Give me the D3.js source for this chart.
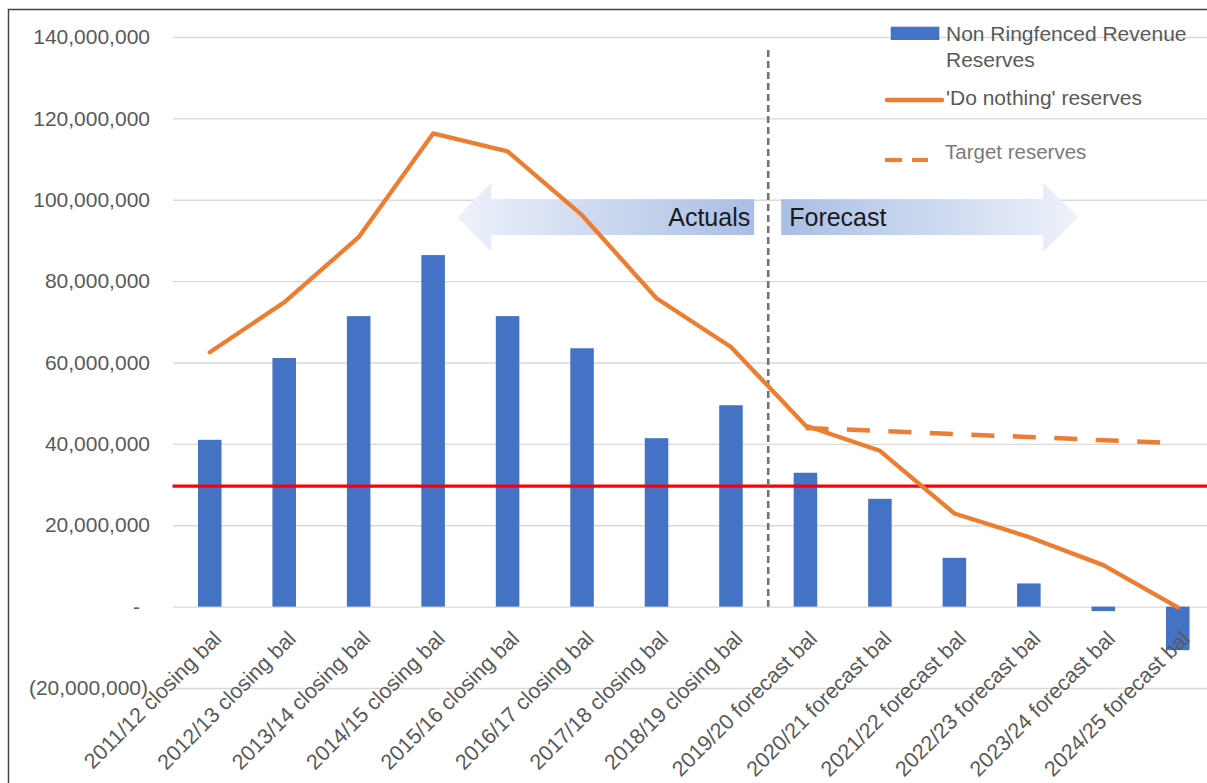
<!DOCTYPE html>
<html>
<head>
<meta charset="utf-8">
<script src="https://cdn.jsdelivr.net/npm/d3@7"></script>
<style>
  html, body { margin: 0; padding: 0; background: #fff; }
  svg { display: block; font-family: "Liberation Sans", Arial, sans-serif; }
</style>
</head>
<body>
<svg id="chart" width="1207" height="783"></svg>
<script>
// Reserve balances by year (actuals to 2018/19, forecasts after)
const categories = [
  "2011/12 closing bal", "2012/13 closing bal", "2013/14 closing bal", "2014/15 closing bal",
  "2015/16 closing bal", "2016/17 closing bal", "2017/18 closing bal", "2018/19 closing bal",
  "2019/20 forecast bal", "2020/21 forecast bal", "2021/22 forecast bal", "2022/23 forecast bal",
  "2023/24 forecast bal", "2024/25 forecast bal"
];
const nonRingfencedReserves = [
  41000000, 61100000, 71400000, 86400000, 71400000, 63500000, 41400000, 49500000,
  32900000, 26500000, 12000000, 5700000, -1100000, -10700000
];
const doNothingReserves = [
  62500000, 74800000, 90800000, 116300000, 111900000, 96200000, 75800000, 63800000,
  44500000, 38300000, 22900000, 17100000, 10200000, -200000
];
const targetReserves = [
  null, null, null, null, null, null, null, null,
  43900000, 43200000, 42400000, 41700000, 40900000, 40200000
];
const minimumReserve = 29600000;
const yTicks = [-20000000, 0, 20000000, 40000000, 60000000, 80000000, 100000000, 120000000, 140000000];
const firstForecast = "2019/20 forecast bal";

const W = 1207, H = 783;
const svg = d3.select("#chart");
svg.append("rect").attr("width", W).attr("height", H).attr("fill", "#fff");

const x = d3.scaleBand().domain(categories).range([172.5, 1215]).paddingInner(0.684).paddingOuter(0.342);
const y = d3.scaleLinear().domain([-20000000, 140000000]).range([688, 37]);

const textGrey = "#595959";
const fmt = v => v === 0 ? "-" : (v < 0 ? "(" + d3.format(",")(-v) + ")" : d3.format(",")(v));

// outer frame (top and left edges)
svg.append("path").attr("d", `M8.5,${H} V9.5 H${W}`)
  .attr("fill", "none").attr("stroke", "#454545").attr("stroke-width", 1.5);

// gridlines + y labels
const yAxis = d3.axisLeft(y).tickValues(yTicks).tickSize(-(W - 173)).tickFormat(fmt).tickPadding(23);
const gy = svg.append("g").attr("transform", "translate(173,0)").call(yAxis);
gy.select(".domain").remove();
gy.selectAll(".tick line").attr("stroke", "#d9d9d9").attr("stroke-width", 1.3);
gy.selectAll(".tick text").attr("fill", textGrey).style("font-size", "21px")
  .attr("dx", d => d === 0 ? -10 : (d < 0 ? -2 : 0));

// bars
const bw = x.bandwidth();
svg.append("g").selectAll("rect").data(categories).join("rect")
  .attr("x", d => x(d))
  .attr("width", bw)
  .attr("y", (d, i) => y(Math.max(0, nonRingfencedReserves[i])))
  .attr("height", (d, i) => Math.abs(y(nonRingfencedReserves[i]) - y(0)))
  .attr("fill", "#4472c4");

// minimum reserve threshold
svg.append("line")
  .attr("x1", x.range()[0]).attr("x2", W)
  .attr("y1", y(minimumReserve)).attr("y2", y(minimumReserve))
  .attr("stroke", "#ff0000").attr("stroke-width", 3.2);

// actuals / forecast divider
const dividerX = (x(firstForecast) + x(categories[categories.indexOf(firstForecast) - 1]) + bw) / 2;
svg.append("line")
  .attr("x1", dividerX).attr("x2", dividerX)
  .attr("y1", 50).attr("y2", y(0))
  .attr("stroke", "#737373").attr("stroke-width", 2.6).attr("stroke-dasharray", "7,4");

// arrows
const defs = svg.append("defs");
function grad(id, c0, c1) {
  const g = defs.append("linearGradient").attr("id", id).attr("x1", "0%").attr("x2", "100%");
  g.append("stop").attr("offset", "0%").attr("stop-color", c0);
  g.append("stop").attr("offset", "100%").attr("stop-color", c1);
}
grad("gradActuals", "#eef2fa", "#a9bee5");
grad("gradForecast", "#a9bee5", "#eef2fa");
const ay0 = 182.7, ay1 = 251.7, by0 = 199.3, by1 = 235, aym = (ay0 + ay1) / 2;
const lTip = dividerX - 311, lEnd = dividerX - 14;
svg.append("path")
  .attr("d", `M${lTip},${aym} L${lTip + 34},${ay0} V${by0} H${lEnd} V${by1} H${lTip + 34} V${ay1} Z`)
  .attr("fill", "url(#gradActuals)");
const rStart = dividerX + 13, rTip = dividerX + 310;
svg.append("path")
  .attr("d", `M${rStart},${by0} H${rTip - 35} V${ay0} L${rTip},${aym} L${rTip - 35},${ay1} V${by1} H${rStart} Z`)
  .attr("fill", "url(#gradForecast)");
svg.append("text").attr("x", lEnd - 4).attr("y", 226).attr("text-anchor", "end")
  .attr("fill", "#1a1a1a").style("font-size", "25px").text("Actuals");
svg.append("text").attr("x", rStart + 8).attr("y", 226)
  .attr("fill", "#1a1a1a").style("font-size", "25px").text("Forecast");

// 'do nothing' line
const cx = d => x(d) + bw / 2;
const line = d3.line().x((d, i) => cx(categories[i])).y(d => y(d));
svg.append("path").datum(doNothingReserves)
  .attr("d", line)
  .attr("fill", "none").attr("stroke", "#ed7d31").attr("stroke-width", 4.3).attr("stroke-linejoin", "round").attr("stroke-linecap", "round");

// target line (dashed)
const tLine = d3.line().defined(d => d !== null).x((d, i) => cx(categories[i])).y(d => y(d));
svg.append("path").datum(targetReserves)
  .attr("d", tLine)
  .attr("fill", "none").attr("stroke", "#ed7d31").attr("stroke-width", 4.5).attr("stroke-dasharray", "23,18.5");

// x labels
svg.append("g").selectAll("text").data(categories).join("text")
  .attr("transform", d => `translate(${cx(d) + 13},${640}) rotate(-45)`)
  .attr("text-anchor", "end")
  .attr("fill", textGrey).style("font-size", "21.5px")
  .text(d => d);

// legend
const lg = svg.append("g");
lg.append("rect").attr("x", 890.7).attr("y", 26.7).attr("width", 48.6).attr("height", 13.3).attr("fill", "#4472c4");
lg.append("text").attr("x", 946).attr("y", 41).attr("fill", textGrey).style("font-size", "21px").text("Non Ringfenced Revenue");
lg.append("text").attr("x", 946).attr("y", 67).attr("fill", textGrey).style("font-size", "21px").text("Reserves");
lg.append("line").attr("x1", 887).attr("x2", 942).attr("y1", 100).attr("y2", 100)
  .attr("stroke", "#ed7d31").attr("stroke-width", 4.5).attr("stroke-linecap", "round");
lg.append("text").attr("x", 946).attr("y", 105).attr("fill", textGrey).style("font-size", "21px").text("'Do nothing' reserves");
lg.append("line").attr("x1", 885).attr("x2", 928).attr("y1", 160).attr("y2", 160)
  .attr("stroke", "#ed7d31").attr("stroke-width", 4).attr("stroke-dasharray", "17,10");
lg.append("text").attr("x", 945).attr("y", 159).attr("fill", "#7a7a7a").style("font-size", "20.5px").text("Target reserves");
</script>
</body>
</html>
